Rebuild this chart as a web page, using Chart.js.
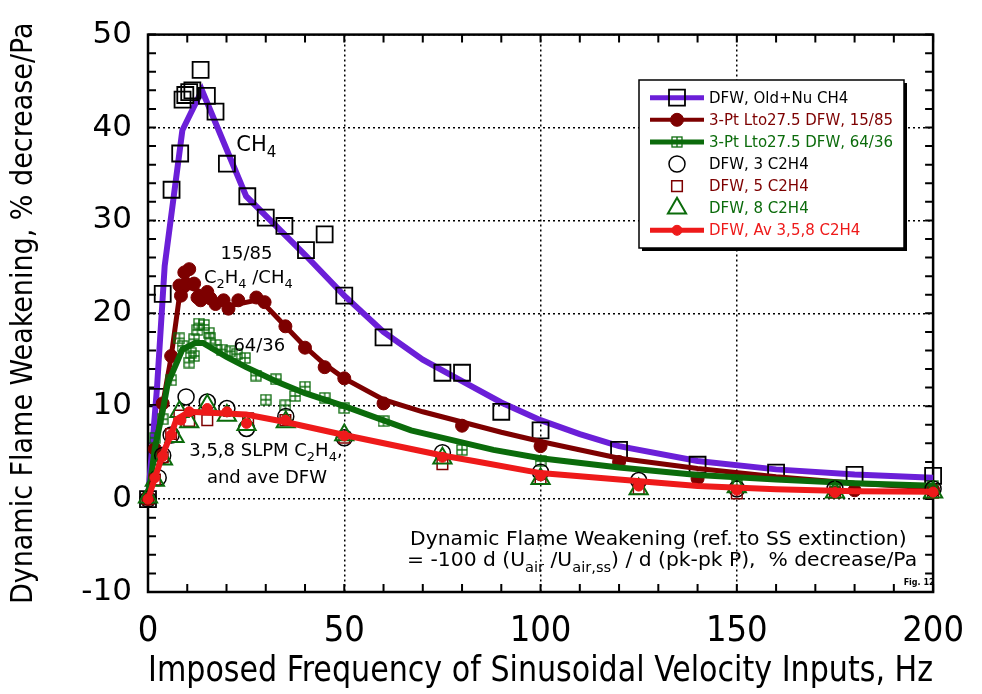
<!DOCTYPE html>
<html>
<head>
<meta charset="utf-8">
<script src="https://cdn.jsdelivr.net/npm/chart.js@4/dist/chart.umd.min.js"></script>
<style>
  html, body { margin: 0; padding: 0; background: #fff; }
  #wrap { width: 982px; height: 694px; }
</style>
</head>
<body>
<div id="wrap"><canvas id="chart" width="982" height="694"></canvas></div>
<script>
// ---- data (Hz, % decrease/Pa) ----
var ch4Hz = [0, 2.3, 3.75, 6, 8.2, 8.8, 9.5, 10.5, 11.3, 13.4, 15, 17.2, 20.1, 25.3, 30, 34.75, 40.25, 45, 50, 60, 75, 80, 90, 100, 120, 140, 160, 180, 200];
var ch4Dfw = [0, 11, 22.1, 33.3, 37.2, 43.0, 43.5, 43.8, 44.0, 46.2, 43.4, 41.7, 36.1, 32.6, 30.3, 29.4, 26.8, 28.5, 21.9, 17.4, 13.6, 13.6, 9.4, 7.4, 5.3, 3.7, 2.85, 2.6, 2.5];
var ch4FitHz = [0, 2.3, 4.25, 8.75, 13.75, 25, 40, 50, 60, 70, 80, 90, 100, 110, 120, 140, 160, 180, 200];
var ch4FitDfw = [0, 12, 25.1, 39.7, 44, 32.6, 26.3, 21.9, 18.0, 15.0, 12.7, 10.4, 8.5, 7.0, 5.7, 4.1, 3.2, 2.65, 2.3];

var hz1585 = [0, 1.75, 3.75, 5.9, 8, 8.4, 9.25, 9.7, 10.5, 11.75, 12.6, 13.4, 15.1, 15.9, 17.2, 19.25, 20.5, 23, 27.6, 29.7, 35, 40, 45, 50, 60, 80, 100, 120, 140, 180, 200];
var dfw1585 = [0, 5.4, 10.3, 15.4, 23.0, 21.9, 24.4, 23.2, 24.75, 23.2, 21.7, 21.4, 22.3, 21.6, 21.0, 21.4, 20.5, 21.4, 21.7, 21.2, 18.6, 16.3, 14.2, 13.0, 10.3, 7.9, 5.7, 4.0, 2.2, 0.95, 1.0];
var fit1585Hz = [0, 1.75, 3.75, 5.9, 8, 10.5, 13, 17, 20.5, 27.5, 30, 35, 40, 45, 50, 60, 70, 80, 90, 100, 120, 140, 160, 180, 200];
var fit1585Dfw = [0, 5.2, 10.2, 15.3, 21.8, 22.8, 22.4, 21.3, 20.8, 21.4, 20.8, 18.6, 16.4, 14.5, 13.0, 10.7, 9.4, 8.3, 7.2, 6.2, 4.4, 3.3, 2.4, 1.7, 1.2];

var hz6436 = [0, 1.75, 3.75, 5.9, 8, 8.8, 10.5, 10.9, 11.75, 11.75, 12.6, 13, 14.25, 15.5, 15.9, 17.2, 18.8, 20.9, 22.6, 24.7, 27.5, 30, 32.6, 35, 37.5, 40, 45, 50, 60, 80, 100, 150, 175, 200];
var dfw6436 = [0, 6.6, 8.6, 12.8, 17.3, 16.5, 14.7, 15.75, 17.2, 15.4, 18.2, 18.9, 18.75, 17.9, 17.3, 16.6, 16.1, 15.9, 15.6, 15.2, 13.3, 10.7, 12.9, 10.1, 11.1, 12.1, 10.9, 9.8, 8.4, 5.3, 4.1, 2.0, 1.3, 1.4];
var fit6436Hz = [0, 1.75, 3.75, 5, 8.75, 12, 14, 20, 25, 33, 40, 50, 67, 88, 100, 120, 140, 160, 180, 200];
var fit6436Dfw = [0, 5.5, 9.5, 12.4, 16.1, 16.8, 16.8, 15.3, 14.2, 12.6, 11.4, 10.0, 7.4, 5.3, 4.4, 3.4, 2.6, 2.1, 1.7, 1.45];

var c3Hz = [0, 2.6, 3.75, 5.9, 9.7, 15.1, 20.1, 25.1, 35.1, 50, 75, 100, 125, 150, 175, 200];
var c3Dfw = [0, 2.3, 4.7, 6.9, 11.0, 10.45, 9.75, 7.6, 8.9, 6.6, 5.0, 2.9, 2.0, 1.1, 1.1, 1.1];
var c5Hz = [0, 1.75, 3.75, 5.9, 8, 10.5, 15.1, 25.5, 35, 50, 75, 100, 125, 150, 175, 200];
var c5Dfw = [0, 2.1, 4.5, 7.0, 9.0, 8.4, 8.5, 8.7, 8.5, 6.6, 3.75, 2.2, 1.1, 0.6, 0.7, 0.7];
var c8Hz = [0, 1.75, 3.8, 6.75, 8, 10.5, 15.1, 20.1, 25.1, 35.1, 50, 75, 100, 125, 150, 175, 200];
var c8Dfw = [0.2, 2.0, 4.3, 6.7, 9.4, 8.3, 10.1, 9.0, 8.0, 8.3, 6.9, 4.4, 2.2, 1.1, 1.3, 0.75, 0.75];

var avHz = [0, 1.75, 3.75, 5.9, 8.4, 10.5, 15.1, 20.1, 25.1, 35, 50, 75, 100, 125, 150, 175, 200];
var avDfw = [0, 2.3, 4.6, 6.9, 8.5, 9.4, 9.75, 9.4, 8.15, 8.5, 6.8, 4.5, 2.5, 1.4, 0.95, 0.7, 0.75];
var fitAvHz = [0, 2, 4, 6, 7.25, 10.5, 25, 35, 50, 75, 83, 100, 120, 140, 160, 180, 200];
var fitAvDfw = [0, 2.6, 5.1, 7.1, 8.6, 9.4, 9.1, 8.3, 6.9, 4.7, 4.1, 2.8, 2.1, 1.4, 1.05, 0.85, 0.8];

var legendLabels = ["DFW, Old+Nu CH4", "3-Pt Lto27.5 DFW, 15/85", "3-Pt Lto27.5 DFW, 64/36",
  "DFW, 3 C2H4", "DFW, 5 C2H4", "DFW, 8 C2H4", "DFW, Av 3,5,8 C2H4"];

// notes: [Hz, value, font size, parts] ; part = [text, isSubscript]
var notes = [
  [22.5, 37.5, 21, [["CH", 0], ["4", 1]]],
  [18.5, 25.8, 18, [["15/85", 0]]],
  [14.25, 23.3, 18, [["C", 0], ["2", 1], ["H", 0], ["4", 1], [" /CH", 0], ["4", 1]]],
  [21.75, 15.9, 18, [["64/36", 0]]],
  [10.5, 4.65, 18, [["3,5,8 SLPM C", 0], ["2", 1], ["H", 0], ["4", 1], [",", 0]]],
  [15, 1.7, 18, [["and ave DFW", 0]]]
];
var defNote1 = "Dynamic Flame Weakening (ref. to SS extinction)";
var defNote2 = [["= -100 d (U", 0], ["air", 1], [" /U", 0], ["air,ss", 1], [") / d (pk-pk P),  % decrease/Pa", 0]];

var PURPLE = "#6b1fd8", DKRED = "#7d0000", GREEN = "#0b6b0b", RED = "#ee1a1a";
var CONDENSED = "'DejaVu Sans Condensed', 'Liberation Sans Narrow', sans-serif";

function pts(xs, ys) {
  return xs.map(function (x, i) { return { x: x, y: ys[i] }; });
}

// square with a cross inside, used as point style
function boxCross(color) {
  var c = document.createElement("canvas");
  c.width = 12; c.height = 12;
  var g = c.getContext("2d");
  g.strokeStyle = color;
  g.lineWidth = 1.3;
  g.strokeRect(1, 1, 10, 10);
  g.beginPath();
  g.moveTo(6, 1); g.lineTo(6, 11);
  g.moveTo(1, 6); g.lineTo(11, 6);
  g.stroke();
  return c;
}
var crossImg = boxCross(GREEN);

function fitLine(data, color, width, order) {
  return { data: data, showLine: true, borderColor: color, borderWidth: width,
    pointRadius: 0, fill: false, order: order, clip: false };
}
function marks(data, style, r, stroke, fill, lw, order) {
  return { data: data, showLine: false, pointStyle: style, pointRadius: r,
    borderColor: stroke, backgroundColor: fill, pointBorderWidth: lw, order: order, clip: false };
}

var datasets = [
  fitLine(pts(ch4FitHz, ch4FitDfw), PURPLE, 6, 11),
  marks(pts(ch4Hz, ch4Dfw), "rect", 11.3, "#000", "rgba(0,0,0,0)", 1.8, 10),
  fitLine(pts(fit1585Hz, fit1585Dfw), DKRED, 5, 9),
  marks(pts(hz1585, dfw1585), "circle", 6.5, DKRED, DKRED, 1, 8),
  fitLine(pts(fit6436Hz, fit6436Dfw), GREEN, 6, 7),
  marks(pts(hz6436, dfw6436), crossImg, 6, GREEN, GREEN, 1, 6),
  marks(pts(c3Hz, c3Dfw), "circle", 8, "#000", "rgba(0,0,0,0)", 1.5, 5),
  marks(pts(c5Hz, c5Dfw), "rect", 7.5, DKRED, "rgba(0,0,0,0)", 1.5, 4),
  marks(pts(c8Hz, c8Dfw), "triangle", 10.5, GREEN, "rgba(0,0,0,0)", 2, 3),
  fitLine(pts(fitAvHz, fitAvDfw), RED, 6, 2),
  marks(pts(avHz, avDfw), "circle", 5, RED, RED, 1, 1)
];

// legend rows: [line dataset index or -1, marker dataset index, text colour]
var legendMap = [[0, 1, "#000"], [2, 3, DKRED], [4, 5, GREEN], [-1, 6, "#000"], [-1, 7, DKRED], [-1, 8, GREEN], [9, 10, RED]];

function drawMarker(ctx, ds, x, y) {
  var r = ds.pointRadius, st = ds.pointStyle;
  ctx.save();
  ctx.strokeStyle = ds.borderColor;
  ctx.fillStyle = ds.backgroundColor;
  ctx.lineWidth = ds.pointBorderWidth;
  if (typeof st !== "string") {
    ctx.drawImage(st, x - st.width / 2, y - st.height / 2);
  } else {
    ctx.beginPath();
    if (st === "rect") {
      var s = r * Math.SQRT1_2;
      ctx.rect(x - s, y - s, 2 * s, 2 * s);
    } else if (st === "triangle") {
      var a = 0;
      ctx.moveTo(x + Math.sin(a) * r, y - Math.cos(a) * r);
      a += 2 * Math.PI / 3;
      ctx.lineTo(x + Math.sin(a) * r, y - Math.cos(a) * r);
      a += 2 * Math.PI / 3;
      ctx.lineTo(x + Math.sin(a) * r, y - Math.cos(a) * r);
      ctx.closePath();
    } else {
      ctx.arc(x, y, r, 0, Math.PI * 2);
    }
    ctx.fill();
    ctx.stroke();
  }
  ctx.restore();
}

function richText(ctx, parts, x, y, size) {
  var cx = x;
  parts.forEach(function (p) {
    var sub = p[1];
    ctx.font = (sub ? size * 0.72 : size) + 'px "DejaVu Sans"';
    ctx.fillText(p[0], cx, y + (sub ? size * 0.28 : 0));
    cx += ctx.measureText(p[0]).width;
  });
}

var frameTicks = {
  id: "frameTicks",
  beforeDatasetsDraw: function (chart) {
    var ctx = chart.ctx, a = chart.chartArea;
    var xs = chart.scales.x, ys = chart.scales.y;
    ctx.save();
    ctx.strokeStyle = "#000";
    ctx.lineWidth = 2;
    ctx.beginPath();
    for (var v = 0; v <= 200; v += 10) {
      var px = xs.getPixelForValue(v);
      ctx.moveTo(px, a.bottom); ctx.lineTo(px, a.bottom - 8);
      ctx.moveTo(px, a.top); ctx.lineTo(px, a.top + 8);
    }
    for (var w = -10; w <= 50; w += 2) {
      var py = ys.getPixelForValue(w);
      ctx.moveTo(a.left, py); ctx.lineTo(a.left + 8, py);
      ctx.moveTo(a.right, py); ctx.lineTo(a.right - 8, py);
    }
    ctx.stroke();
    ctx.lineWidth = 2.5;
    ctx.strokeRect(a.left, a.top, a.right - a.left, a.bottom - a.top);
    ctx.restore();
  }
};

var annotations = {
  id: "annotations",
  afterDatasetsDraw: function (chart) {
    var ctx = chart.ctx, xs = chart.scales.x, ys = chart.scales.y;
    ctx.save();
    ctx.fillStyle = "#000";
    ctx.textBaseline = "alphabetic";
    notes.forEach(function (n) {
      richText(ctx, n[3], xs.getPixelForValue(n[0]), ys.getPixelForValue(n[1]), n[2]);
    });
    richText(ctx, [[defNote1, 0]], xs.getPixelForValue(66.75), ys.getPixelForValue(-4.9), 20.3);
    richText(ctx, defNote2, xs.getPixelForValue(66), ys.getPixelForValue(-7.2), 20.3);
    ctx.font = 'bold 8px "DejaVu Sans"';
    ctx.fillText("Fig. 12", xs.getPixelForValue(192.5), ys.getPixelForValue(-9.3));

    // legend box
    var x0 = 639, y0 = 80, bw = 265, bh = 168;
    ctx.fillStyle = "#000";
    ctx.fillRect(x0 + 3, y0 + 3, bw, bh);
    ctx.fillStyle = "#fff";
    ctx.fillRect(x0, y0, bw, bh);
    ctx.lineWidth = 1.5;
    ctx.strokeStyle = "#000";
    ctx.strokeRect(x0, y0, bw, bh);
    ctx.font = '15px "DejaVu Sans"';
    ctx.textBaseline = "middle";
    legendMap.forEach(function (row, i) {
      var y = 97.7 + i * 22.1;
      if (row[0] >= 0) {
        var lds = chart.data.datasets[row[0]];
        ctx.strokeStyle = lds.borderColor;
        ctx.lineWidth = lds.borderWidth - 1;
        ctx.beginPath();
        ctx.moveTo(650, y); ctx.lineTo(704, y);
        ctx.stroke();
      }
      drawMarker(ctx, chart.data.datasets[row[1]], 677, y);
      ctx.fillStyle = row[2];
      ctx.font = '15px "DejaVu Sans"';
      ctx.fillText(legendLabels[i], 709, y + 1);
    });
    ctx.restore();
  }
};

var chart = new Chart(document.getElementById("chart"), {
  type: "scatter",
  data: { datasets: datasets },
  options: {
    responsive: false,
    animation: false,
    events: [],
    layout: { padding: { top: 25, right: 34, left: 0, bottom: 0 } },
    plugins: { legend: { display: false }, tooltip: { enabled: false } },
    scales: {
      x: {
        type: "linear", min: 0, max: 200,
        afterFit: function (s) { s.height = 102; },
        ticks: { stepSize: 50, color: "#000", padding: 18,
          font: { family: CONDENSED, size: 36 } },
        grid: { color: "#000", lineWidth: 1.5, drawTicks: false },
        border: { display: false, dash: [2, 3] },
        title: { display: true, text: "Imposed Frequency of Sinusoidal Velocity Inputs, Hz", color: "#000",
          font: { family: CONDENSED, size: 35 },
          padding: { top: 0, bottom: 1 } }
      },
      y: {
        min: -10, max: 50,
        afterFit: function (s) { s.width = 148; },
        ticks: { stepSize: 10, color: "#000", padding: 16,
          font: { family: "'DejaVu Sans'", size: 31 } },
        grid: { color: "#000", lineWidth: 1.5, drawTicks: false },
        border: { display: false, dash: [2, 3] },
        title: { display: true, text: "Dynamic Flame Weakening, % decrease/Pa", color: "#000",
          font: { family: CONDENSED, size: 30 },
          padding: { top: 6, bottom: 0 } }
      }
    }
  },
  plugins: [frameTicks, annotations]
});
</script>
</body>
</html>
